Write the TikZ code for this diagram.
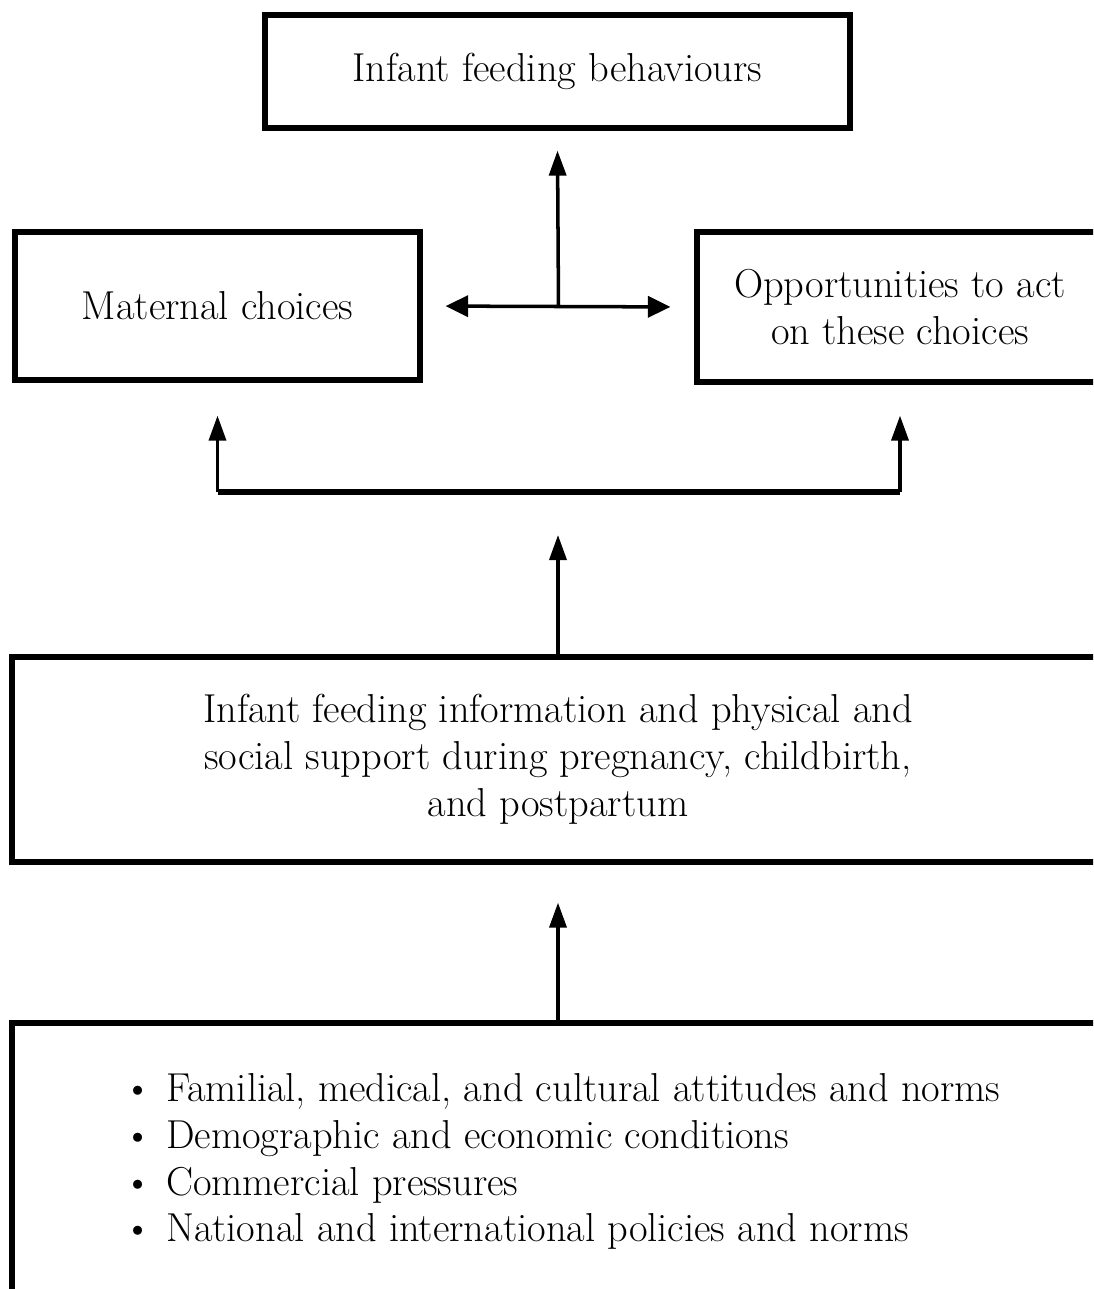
\documentclass[tikz,border=0pt]{standalone}
\usepackage{tikz}
\usetikzlibrary{calc, positioning, arrows.meta}

\begin{document}
\begin{tikzpicture}[x=0.02cm, y=-0.02cm,
        box/.style={draw, line width=3pt, align=center, inner sep=0pt,
            font=\fontsize{23}{26.7}\selectfont},
        arr/.style={-{Triangle[length=0.5cm, width=0.34cm]}, line width=2pt}]
    % Frame of the page
    \useasboundingbox (0,0) rectangle (1093,1289);
    \clip (0,0) rectangle (1093,1289);
    % Draw boxes
    \node[box, minimum width=11.7cm, minimum height=2.26cm] (behav) at (557.5,71.5) {Infant feeding behaviours};
    \node[box, minimum width=8.1cm, minimum height=2.96cm] (mat) at (217.5,306) {Maternal choices};
    \node[box, minimum width=8.12cm, minimum height=3cm] (opp) at (900,307) {Opportunities to act\\on these choices};
    \node[box, minimum width=21.84cm, minimum height=4.1cm] (info) at (558,759.5) {Infant feeding information and physical and\\social support during pregnancy, childbirth,\\and postpartum};
    \node[box, minimum width=22cm, minimum height=5.54cm, align=left] (ctx) at (562,1161.5) {\textbullet\,\,Familial, medical, and cultural attitudes and norms\\\textbullet\,\,Demographic and economic conditions\\\textbullet\,\,Commercial pressures\\\textbullet\,\,National and international policies and norms};
    % Points where the arrows meet
    \coordinate (hub) at ($(mat.east)!0.5!(opp.west)$);
    \coordinate (fork) at (558,492);
    \coordinate (tip) at (558,535);
    % Draw arrows
    \draw[arr, {Triangle[length=0.45cm, width=0.42cm]}-{Triangle[length=0.45cm, width=0.42cm]}, shorten <=0.46cm, shorten >=0.48cm] (mat.east) -- (opp.west);
    \draw[arr] (hub) -- ([yshift=-0.4cm]behav.south);
    \draw[line width=3.5pt] (mat.south |- fork) -- (opp.south |- fork);
    \draw[arr] (mat.south |- fork) -- ([yshift=-0.66cm]mat.south);
    \draw[arr] (opp.south |- fork) -- ([yshift=-0.62cm]opp.south);
    \draw[arr] (info.north) -- (tip);
    \draw[arr] (ctx.north -| tip) -- ([yshift=-0.76cm]info.south);
\end{tikzpicture}
\end{document}
